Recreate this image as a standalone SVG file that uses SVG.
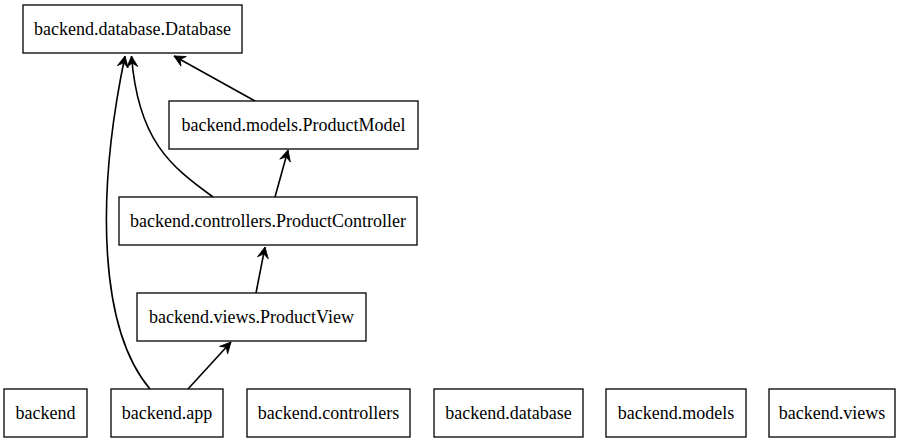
<svg xmlns="http://www.w3.org/2000/svg" width="904" height="443" viewBox="0 0 904 443">
<style>
.n rect{fill:#fff;stroke:#000;stroke-width:1.3}
.n text{font-size:18px;fill:#000;text-anchor:middle}
.e path{fill:none;stroke:#000;stroke-width:1.6;marker-end:url(#vee)}
</style>
<defs>
<marker id="vee" markerUnits="userSpaceOnUse" markerWidth="14" markerHeight="14" viewBox="-12 -7 14 14" refX="0" refY="0" orient="auto">
<path d="M0,0 L-11,-5.5 L-7,0 L-11,5.5 Z" fill="#000" stroke="#000" stroke-width="0.8"/>
</marker>
</defs>
<rect width="904" height="443" fill="#fff"/>
<g id="edges" class="e">
<path d="M255,101 L174,56"/>
<path d="M275,197 L288,150"/>
<path d="M213,197 C170,166 138,140 131.5,56"/>
<path d="M150,389 C100,330 95,200 125,56"/>
<path d="M256,293 L265,247"/>
<path d="M188,389 L231,342"/>
</g>
<g font-family="'Liberation Serif', 'Times New Roman', 'DejaVu Serif', serif">
<g id="n_db_Database" class="n"><rect x="23" y="5" width="219" height="48"/><text x="132.5" y="35">backend.database.Database</text></g>
<g id="n_ProductModel" class="n"><rect x="169" y="101" width="249" height="48"/><text x="293.5" y="131">backend.models.ProductModel</text></g>
<g id="n_ProductController" class="n"><rect x="119" y="197" width="298" height="48"/><text x="268" y="227">backend.controllers.ProductController</text></g>
<g id="n_ProductView" class="n"><rect x="137" y="293" width="229" height="48"/><text x="251.5" y="323">backend.views.ProductView</text></g>
<g id="n_backend" class="n"><rect x="4" y="389" width="83" height="48"/><text x="45.5" y="419">backend</text></g>
<g id="n_app" class="n"><rect x="111" y="389" width="112" height="48"/><text x="167" y="419">backend.app</text></g>
<g id="n_controllers" class="n"><rect x="247" y="389" width="163" height="48"/><text x="328.5" y="419">backend.controllers</text></g>
<g id="n_database" class="n"><rect x="434" y="389" width="149" height="48"/><text x="508.5" y="419">backend.database</text></g>
<g id="n_models" class="n"><rect x="606" y="389" width="140" height="48"/><text x="676" y="419">backend.models</text></g>
<g id="n_views" class="n"><rect x="769" y="389" width="126" height="48"/><text x="832" y="419">backend.views</text></g>
</g>
</svg>
